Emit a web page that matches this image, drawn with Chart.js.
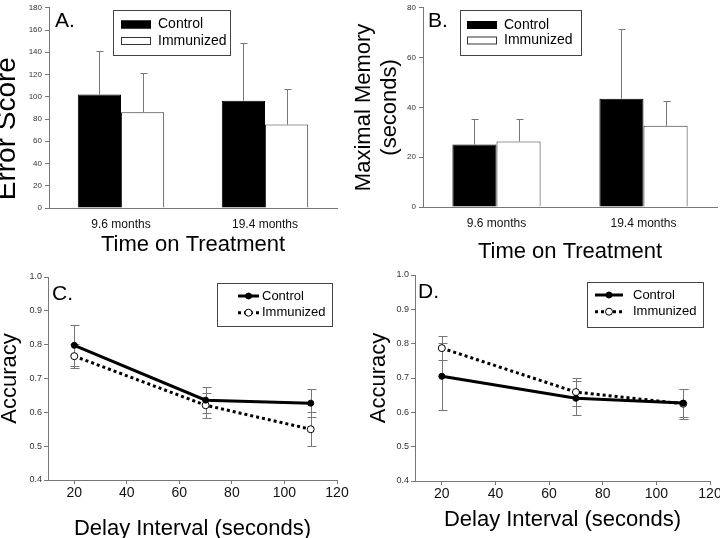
<!DOCTYPE html>
<html>
<head>
<meta charset="utf-8">
<script src="https://cdn.jsdelivr.net/npm/chart.js@4.4.0/dist/chart.umd.min.js"></script>
<style>
  html, body { margin: 0; padding: 0; background: #fff; width: 720px; height: 538px; overflow: hidden; }
  canvas { position: absolute; }
</style>
</head>
<body>
<canvas id="chA" width="360" height="265" style="left:0;top:0"></canvas>
<canvas id="chB" width="370" height="265" style="left:350px;top:0"></canvas>
<canvas id="chC" width="360" height="285" style="left:0;top:262px"></canvas>
<canvas id="chD" width="365" height="285" style="left:360px;top:262px"></canvas>
<script>
// bar panels (A, B)
var months = ["9.6 months", "19.4 months"];
var errCtrl = [102, 96.5];
var errCtrlSe = [39, 51.5];
var errImm = [86, 75];
var errImmSe = [35, 32];
var memCtrl = [25.1, 43.5];
var memCtrlSe = [10.2, 28];
var memImm = [26.3, 32.6];
var memImmSe = [9, 10];

// line panels (C, D)
var delays = [20, 70, 110];
var accCCtrl = [0.798, 0.636, 0.627];
var accCCtrlSe = [0.06, 0.038, 0.042];
var accCImm = [0.766, 0.621, 0.55];
var accCImmSe = [0.035, 0.037, 0.05];
var accDCtrl = [0.705, 0.641, 0.627];
var accDCtrlSe = [0.098, 0.05, 0.04];
var accDImm = [0.787, 0.659, 0.625];
var accDImmSe = [0.035, 0.042, 0.043];

var FAMILY = "'Liberation Sans', Arial, Helvetica, sans-serif";
Chart.defaults.font.family = FAMILY;
Chart.defaults.color = "#000";

// error bars, legend box and panel letter
var panelDeco = {
  id: "panelDeco",
  beforeDatasetsDraw: function (chart, args, o) {
    if (o.kind === "line") drawErrors(chart, false, 4);
  },
  afterDatasetsDraw: function (chart, args, o) {
    if (o.kind === "bar") drawErrors(chart, true, 3);
    drawLegend(chart, o);
  }
};

function drawErrors(chart, upOnly, cap) {
  var ctx = chart.ctx;
  var ys = chart.scales.y;
  ctx.save();
  ctx.strokeStyle = "#777";
  ctx.lineWidth = 1;
  chart.data.datasets.forEach(function (ds, i) {
    var meta = chart.getDatasetMeta(i);
    meta.data.forEach(function (el, j) {
      var v = ds.data[j];
      if (typeof v === "object") v = v.y;
      var e = ds.errors[j];
      var x = Math.round(el.x) + 0.5;
      var top = Math.round(ys.getPixelForValue(v + e)) + 0.5;
      var bot = upOnly ? el.y : Math.round(ys.getPixelForValue(v - e)) + 0.5;
      ctx.beginPath();
      ctx.moveTo(x, bot);
      ctx.lineTo(x, top);
      ctx.moveTo(x - cap, top);
      ctx.lineTo(x + cap + 1, top);
      if (!upOnly) {
        ctx.moveTo(x - cap, bot);
        ctx.lineTo(x + cap + 1, bot);
      }
      ctx.stroke();
    });
  });
  ctx.restore();
}

function drawLegend(chart, o) {
  var ctx = chart.ctx;
  var b = o.box;
  ctx.save();
  ctx.strokeStyle = "#444";
  ctx.lineWidth = 1;
  ctx.fillStyle = "#fff";
  ctx.fillRect(b.x, b.y, b.w, b.h);
  ctx.strokeRect(b.x + 0.5, b.y + 0.5, b.w, b.h);
  ctx.font = o.fontSize + "px " + FAMILY;
  ctx.textBaseline = "middle";
  chart.data.datasets.forEach(function (ds, i) {
    var y = o.rows[i];
    if (o.kind === "bar") {
      ctx.fillStyle = ds.backgroundColor;
      ctx.fillRect(o.sx, y - 4, o.sw, 8);
      ctx.strokeStyle = ds.borderColor;
      ctx.strokeRect(o.sx + 0.5, y - 3.5, o.sw - 1, 7);
    } else {
      ctx.strokeStyle = ds.borderColor;
      ctx.lineWidth = ds.borderWidth;
      ctx.setLineDash(ds.borderDash || []);
      ctx.beginPath();
      ctx.moveTo(o.sx, y);
      ctx.lineTo(o.sx + o.sw, y);
      ctx.stroke();
      ctx.setLineDash([]);
      ctx.lineWidth = 1;
      ctx.beginPath();
      ctx.arc(o.sx + o.sw / 2, y, ds.pointRadius, 0, Math.PI * 2);
      ctx.fillStyle = ds.pointBackgroundColor;
      ctx.fill();
      ctx.stroke();
    }
    ctx.fillStyle = "#000";
    ctx.fillText(ds.label, o.tx, y);
  });
  ctx.font = "21px " + FAMILY;
  ctx.textBaseline = "alphabetic";
  ctx.fillStyle = "#000";
  ctx.fillText(o.letter, o.lx, o.ly);
  ctx.restore();
}

function fixWidth(w) { return function (s) { s.width = w; }; }
function fixHeight(h) { return function (s) { s.height = h; }; }

function barChart(id, ctrl, ctrlSe, imm, immSe, yMax, yTitle, yTitleOpts, sizes, deco) {
  return new Chart(document.getElementById(id), {
    type: "bar",
    data: {
      labels: months,
      datasets: [
        { label: "Control", data: ctrl, errors: ctrlSe, backgroundColor: "#000", borderColor: "#000", borderWidth: 1 },
        { label: "Immunized", data: imm, errors: immSe, backgroundColor: "#fff", borderColor: "#333", borderWidth: 1 }
      ]
    },
    options: {
      responsive: false,
      animation: false,
      layout: { padding: { left: 0, top: sizes.top, right: sizes.right, bottom: 0 } },
      datasets: { bar: { categoryPercentage: 0.6, barPercentage: 1.0 } },
      plugins: {
        legend: { display: false },
        tooltip: { enabled: false },
        panelDeco: deco
      },
      scales: {
        x: {
          grid: { display: false },
          border: { color: "#777" },
          ticks: { font: { size: 12 }, color: "#111", padding: 1 },
          title: { display: true, text: "Time on Treatment", font: { size: 22, lineHeight: 1 }, padding: { top: 0, bottom: sizes.xTitlePad } },
          afterFit: fixHeight(sizes.xh)
        },
        y: {
          min: 0, max: yMax,
          grid: { drawOnChartArea: false, tickLength: 4, color: "#777" },
          border: { color: "#777" },
          ticks: { stepSize: 20, font: { size: 8 }, color: "#333", padding: 3 },
          title: Object.assign({ display: true, text: yTitle }, yTitleOpts),
          afterFit: fixWidth(sizes.yw)
        }
      }
    },
    plugins: [panelDeco]
  });
}

function pts(vals) {
  return delays.map(function (d, i) { return { x: d, y: vals[i] }; });
}

function lineChart(id, ctrl, ctrlSe, imm, immSe, sizes, deco) {
  return new Chart(document.getElementById(id), {
    type: "line",
    data: {
      datasets: [
        { label: "Control", data: pts(ctrl), errors: ctrlSe, borderColor: "#000", borderWidth: 3,
          pointRadius: 3, pointBackgroundColor: "#000", pointBorderColor: "#000", pointBorderWidth: 1 },
        { label: "Immunized", data: pts(imm), errors: immSe, borderColor: "#000", borderWidth: 3, borderDash: [3, 3],
          pointRadius: 3.5, pointBackgroundColor: "#fff", pointBorderColor: "#000", pointBorderWidth: 1 }
      ]
    },
    options: {
      responsive: false,
      animation: false,
      layout: { padding: { left: 0, top: sizes.top, right: sizes.right, bottom: 0 } },
      plugins: {
        legend: { display: false },
        tooltip: { enabled: false },
        panelDeco: deco
      },
      scales: {
        x: {
          type: "linear", min: 10, max: 120,
          afterBuildTicks: function (s) { s.ticks = s.ticks.filter(function (t) { return t.value % 20 === 0; }); },
          grid: { drawOnChartArea: false, tickLength: 4, color: "#777" },
          border: { color: "#777" },
          ticks: { stepSize: 20, font: { size: 14 }, color: "#111", padding: 1 },
          title: { display: true, text: "Delay Interval (seconds)", font: { size: 22, lineHeight: 0.8 }, padding: { top: 0, bottom: sizes.xTitlePad } },
          afterFit: fixHeight(sizes.xh)
        },
        y: {
          min: 0.4, max: 1.0,
          grid: { drawOnChartArea: false, tickLength: 4, color: "#777" },
          border: { color: "#777" },
          ticks: { stepSize: 0.1, font: { size: 9 }, color: "#333", padding: 2,
                   callback: function (v) { return v.toFixed(1); } },
          title: { display: true, text: "Accuracy", font: { size: 22, lineHeight: 0.8 }, padding: { top: sizes.yTitlePad, bottom: 0 } },
          afterFit: fixWidth(sizes.yw)
        }
      }
    },
    plugins: [panelDeco]
  });
}

barChart("chA", errCtrl, errCtrlSe, errImm, errImmSe, 180, " Error Score",
  { align: "start", font: { size: 28, lineHeight: 0.55 }, padding: 0 },
  { top: 7, right: 23, xh: 57, yw: 49, xTitlePad: 9 },
  { kind: "bar", letter: "A.", lx: 55, ly: 27, fontSize: 14,
    box: { x: 113, y: 10, w: 117, h: 45 }, rows: [24.5, 41], sx: 121, sw: 30, tx: 158 });

barChart("chB", memCtrl, memCtrlSe, memImm, memImmSe, 80, ["Maximal Memory", "(seconds)"],
  { font: { size: 22, lineHeight: 1.18 }, padding: { top: 1, bottom: 0 } },
  { top: 4, right: 3, xh: 58, yw: 73, xTitlePad: 2 },
  { kind: "bar", letter: "B.", lx: 78, ly: 27, fontSize: 14,
    box: { x: 110, y: 10, w: 121, h: 45 }, rows: [25, 40.5], sx: 117, sw: 30, tx: 154 });

lineChart("chC", accCCtrl, accCCtrlSe, accCImm, accCImmSe,
  { top: 15, right: 23, xh: 67, yw: 48, xTitlePad: 9, yTitlePad: 1 },
  { kind: "line", letter: "C.", lx: 52, ly: 38, fontSize: 13,
    box: { x: 217, y: 21, w: 115, h: 43 }, rows: [34, 50.7], sx: 238, sw: 21, tx: 262 });

lineChart("chD", accDCtrl, accDCtrlSe, accDImm, accDImmSe,
  { top: 13, right: 15, xh: 66, yw: 55, xTitlePad: 18, yTitlePad: 10 },
  { kind: "line", letter: "D.", lx: 58, ly: 36, fontSize: 13,
    box: { x: 227, y: 20, w: 116, h: 45 }, rows: [33, 49.7], sx: 235, sw: 28, tx: 273 });
</script>
</body>
</html>
